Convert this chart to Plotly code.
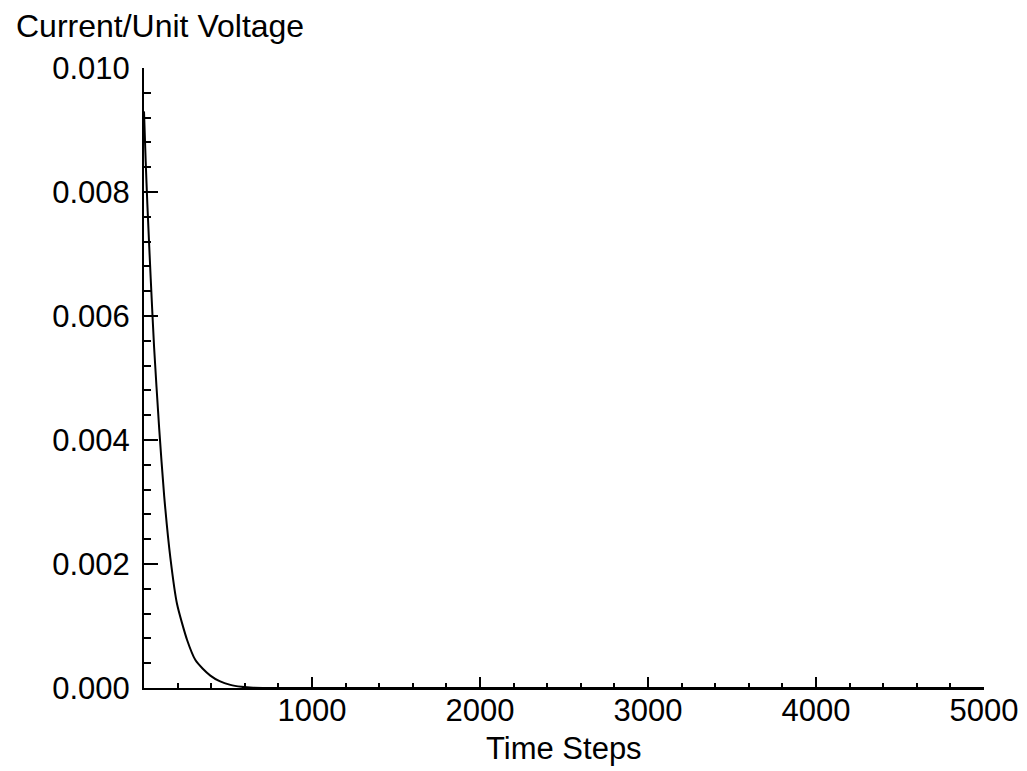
import plotly.graph_objects as go

time_steps = [0, 10, 20, 40, 60, 90, 120, 157, 197, 257, 306, 350, 395, 450, 514, 580, 650, 800, 1000, 2000, 3000, 4000, 5000]
current = [0.0093, 0.0085, 0.0078, 0.0066, 0.0055, 0.0042, 0.0031, 0.0021, 0.00135, 0.00077, 0.00045, 0.00031, 0.00020, 0.00011, 0.00005, 0.00002, 0.000005, 0.0, 0.0, 0.0, 0.0, 0.0, 0.0]

x_ticks = [1000, 2000, 3000, 4000, 5000]
y_ticks = [0.000, 0.002, 0.004, 0.006, 0.008, 0.010]

FONT = "Liberation Sans, Arial, Helvetica, sans-serif"

# page body has an 8px margin, so the figure is sized to fill the rest of the window
fig = go.Figure()
fig.add_trace(go.Scatter(x=time_steps, y=current, mode="lines",
                         line=dict(color="black", width=2, shape="spline", smoothing=0.6),
                         showlegend=False, hoverinfo="skip"))

fig.update_layout(
    width=1019, height=763,
    margin=dict(l=136, r=43, t=60, b=83, autoexpand=False),
    paper_bgcolor="white", plot_bgcolor="white",
    font=dict(family=FONT, size=31, color="black"),
    xaxis=dict(range=[0, 5000], showgrid=False, zeroline=False, automargin=False,
               showline=True, linecolor="black", linewidth=2,
               ticks="inside", ticklen=11, tickwidth=1.5, tickcolor="black",
               tickvals=x_ticks, ticktext=[str(v) for v in x_ticks],
               minor=dict(ticks="inside", ticklen=5, tickwidth=1.5, tickcolor="black", dtick=200, tick0=0),
               tickfont=dict(size=31), ticklabelstandoff=-6),
    yaxis=dict(range=[0, 0.010], showgrid=False, zeroline=False, automargin=False,
               showline=True, linecolor="black", linewidth=2,
               ticks="inside", ticklen=14, tickwidth=1.5, tickcolor="black",
               tickvals=y_ticks, ticktext=[f"{v:.3f}" for v in y_ticks],
               minor=dict(ticks="inside", ticklen=7, tickwidth=1.5, tickcolor="black", dtick=0.0004, tick0=0),
               tickfont=dict(size=31), ticklabelstandoff=6),
    annotations=[
        dict(text="Current/Unit Voltage", xref="paper", yref="paper",
             x=(14 - 144) / 840, y=(688 - 26) / 620, xanchor="left", yanchor="middle",
             showarrow=False, font=dict(size=32)),
        dict(text="Time Steps", xref="paper", yref="paper",
             x=0.5, y=(688 - 748) / 620, xanchor="center", yanchor="middle",
             showarrow=False, font=dict(size=31)),
    ],
)

fig.write_html("out.html")
